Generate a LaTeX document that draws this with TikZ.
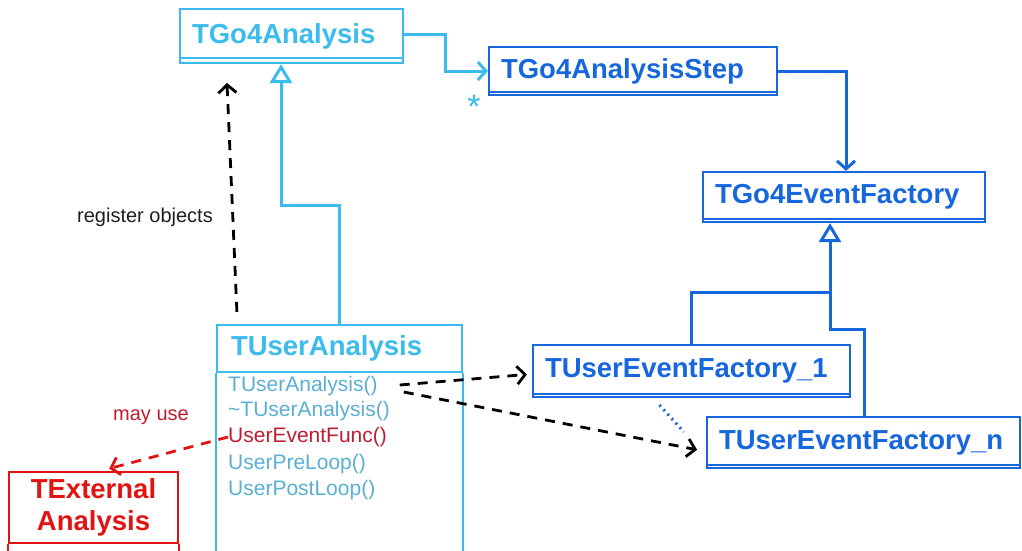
\documentclass[tikz,border=0pt]{standalone}
\usepackage{fontspec}
\setmainfont{Liberation Sans}
\usetikzlibrary{arrows.meta,calc}
\definecolor{lb}{RGB}{60,188,236}
\definecolor{db}{RGB}{22,102,222}
\definecolor{mt}{RGB}{90,175,210}
\definecolor{rd}{RGB}{225,20,20}
\definecolor{drd}{RGB}{190,30,50}
\definecolor{txt}{RGB}{30,30,30}
\begin{document}
\begin{tikzpicture}[x=1pt,y=-1pt,
  cls/.style={draw, line width=2.2pt, font=\fontsize{27.5}{32}\selectfont\bfseries, inner xsep=12pt, inner ysep=0pt, align=left},
  lbcls/.style={cls, draw=lb, text=lb},
  dbcls/.style={cls, draw=db, text=db},
  meth/.style={anchor=west, inner sep=0pt, font=\fontsize{21}{24}\selectfont, text=mt},
  vee/.style={-{Straight Barb[length=8pt,width=18pt]}},
  tri/.style={-{Triangle[open,length=19pt,width=22pt]}},
  assoc/.style={line width=3pt, vee},
  dep/.style={line width=2.8pt, black, dash pattern=on 10pt off 8pt, vee},
  lbl/.style={font=\fontsize{20}{24}\selectfont, inner sep=0pt}]
\useasboundingbox (0,0) rectangle (1022,551);
\clip (0,0) rectangle (1022,551);
\fill[white] (0,0) rectangle (1022,551);

% classes
\node[lbcls, minimum width=223pt, minimum height=54pt, text width=199pt] (ga) at (291.5,36) {TGo4Analysis};
\draw[lb, line width=2.2pt] ([yshift=6pt]ga.south west) -- ([yshift=6pt]ga.south east);

\node[dbcls, minimum width=288pt, minimum height=48pt, text width=264pt] (gs) at (633,71) {TGo4AnalysisStep};
\draw[db, line width=2.2pt] ([yshift=4pt]gs.south west) -- ([yshift=4pt]gs.south east);

\node[dbcls, minimum width=282pt, minimum height=50pt, text width=258pt] (ef) at (844,197) {TGo4EventFactory};
\draw[db, line width=2.2pt] ([yshift=4pt]ef.south west) -- ([yshift=4pt]ef.south east);

\node[dbcls, minimum width=317pt, minimum height=52pt, text width=293pt] (u1) at (691.5,371) {TUserEventFactory\_1};
\draw[db, line width=2.2pt] ([yshift=4pt]u1.south west) -- ([yshift=4pt]u1.south east);

\node[dbcls, minimum width=313pt, minimum height=51pt, text width=289pt] (un) at (863.5,442.5) {TUserEventFactory\_n};
\draw[db, line width=2.2pt] ([yshift=4pt]un.south west) -- ([yshift=4pt]un.south east);

\node[lbcls, inner xsep=14pt, minimum width=245pt, minimum height=47pt, text width=217pt] (ua) at (339.5,348.5) {TUserAnalysis};
\draw[lb, line width=2.2pt] (ua.south west) -- ++(0,200) (ua.south east) -- ++(0,200);

\node[cls, draw=rd, text=rd, align=center, inner xsep=0pt, minimum width=169pt, minimum height=71pt, text width=169pt] (ext) at (93.5,507.5) {TExternal\\Analysis};
\draw[rd, line width=2.2pt] (ext.south west) -- ++(0,200) (ext.south east) -- ++(0,200);

% methods
\node[meth] (m1) at (228,386) {TUserAnalysis()};
\node[meth] (m2) at (228,411) {\textasciitilde TUserAnalysis()};
\node[meth, text=drd] (m3) at (228,437) {UserEventFunc()};
\node[meth] (m4) at (228,464) {UserPreLoop()};
\node[meth] (m5) at (228,490) {UserPostLoop()};

% association TGo4Analysis -> TGo4AnalysisStep
\draw[assoc, lb] ([yshift=1pt]ga.east) -- (445,35) |- (gs.west);
\node[text=lb, inner sep=0pt, font=\fontsize{34}{34}\selectfont] (star) at (474,107) {*};

% TGo4AnalysisStep -> TGo4EventFactory
\draw[assoc, db] (gs.east) -| ([xshift=2pt]ef.north);

% inheritance TUserAnalysis -> TGo4Analysis
\draw[tri, lb, line width=3pt] (ua.north) -- (339.5,205) -| ([xshift=-10.5pt]ga.south);

% inheritance factories -> TGo4EventFactory
\draw[tri, db, line width=3pt] ([xshift=0.5pt]un.north) |- (830,329) -- ([xshift=-14pt]ef.south);
\draw[db, line width=3pt] (u1.north) |- (830,292);
\draw[db, line width=3pt, dash pattern=on 2pt off 4pt] ([shift={(-32,7)}]u1.south) -- ([shift={(-22,16)}]un.north west);

% dependencies
\coordinate (regend) at (227,83);
\draw[dep] ([xshift=21pt,yshift=12pt]ua.north west) -- (regend);
\node[lbl, text=txt] (reg) at (145,217) {register objects};

\draw[dep, shorten >=5pt] ([xshift=22pt,yshift=1pt]m1.east) -- ([yshift=-3pt]u1.west);
\draw[dep, shorten >=9pt] ([xshift=26pt,yshift=-6pt]m1.east) -- ([yshift=-9pt]un.west);

\draw[line width=2.8pt, rd, dash pattern=on 10pt off 8pt, vee, shorten >=9pt] (m3.west) -- ([xshift=7pt]ext.north);
\node[lbl, text=drd] (may) at (151,417) {may use};
\end{tikzpicture}
\end{document}
